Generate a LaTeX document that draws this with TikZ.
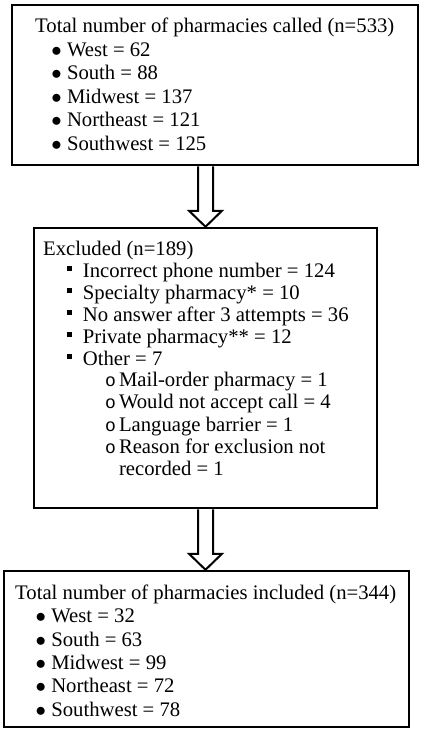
\documentclass[tikz,border=0pt]{standalone}
\usepackage{fontspec}
\setmainfont{Liberation Serif}
\newfontfamily\monofont{Liberation Mono}
\usetikzlibrary{positioning,calc}
\newcommand{\bul}{\makebox[15.6pt][l]{$\bullet$}}
\newcommand{\sqbul}{\makebox[16pt][l]{\rule[6.3pt]{5pt}{4.7pt}}}
\newcommand{\cbul}{\makebox[14pt][l]{\monofont\fontsize{18}{18}\selectfont o}}

\begin{document}
\begin{tikzpicture}[x=1pt,y=1pt,font=\fontsize{20.7}{24}\selectfont,
  box/.style={draw,line width=2.5,inner sep=0},
  txt/.style={anchor=base west,inner sep=0},
  hollow/.style={draw,line width=2,line join=miter}]
\useasboundingbox (0,0) rectangle (423,-733);
% boxes
\node[box,minimum width=406,minimum height=160](called) at (215,-85) {};
\node[box,minimum width=343,minimum height=280](excl) at (205.5,-368) {};
\node[box,minimum width=405,minimum height=156](incl) at (206.5,-649) {};
% first box
\node[txt](ctitle) at (35,-32.3) {Total number of pharmacies called (n=533)};
\node[txt](c1) at (51.2,-56.7) {\bul West = 62};
\node[txt](c2) at (51.2,-80) {\bul South = 88};
\node[txt](c3) at (51.2,-103.3) {\bul Midwest = 137};
\node[txt](c4) at (51.2,-126.7) {\bul Northeast = 121};
\node[txt](c5) at (51.2,-150) {\bul Southwest = 125};
% second box
\node[txt](etitle) at (43,-255) {Excluded (n=189)};
\node[txt](e1) at (66.7,-277.3) {\sqbul Incorrect phone number = 124};
\node[txt](e2) at (66.7,-299.3) {\sqbul Specialty pharmacy* = 10};
\node[txt](e3) at (66.7,-321.3) {\sqbul No answer after 3 attempts = 36};
\node[txt](e4) at (66.7,-343.3) {\sqbul Private pharmacy** = 12};
\node[txt](e5) at (66.7,-365.3) {\sqbul Other = 7};
\node[txt](o1) at (104.8,-386.7) {\cbul Mail-order pharmacy = 1};
\node[txt](o2) at (104.8,-408.7) {\cbul Would not accept call = 4};
\node[txt](o3) at (104.8,-431) {\cbul Language barrier = 1};
\node[txt](o4) at (104.8,-453) {\cbul Reason for exclusion not};
\node[txt](o4b) at (118.8,-475) {recorded = 1};
% third box
\node[txt](ititle) at (15,-599.3) {Total number of pharmacies included (n=344)};
\node[txt](i1) at (35.5,-622.7) {\bul West = 32};
\node[txt](i2) at (35.5,-646) {\bul South = 63};
\node[txt](i3) at (35.5,-669.3) {\bul Midwest = 99};
\node[txt](i4) at (35.5,-692.7) {\bul Northeast = 72};
\node[txt](i5) at (35.5,-716) {\bul Southwest = 78};
% arrows
\coordinate (a1) at (called.south -| excl.north);
\draw[hollow] ($(a1)+(-7.5,0)$) -- ($(excl.north)+(-7.5,16)$) -- ($(excl.north)+(-16.5,16)$)
  -- (excl.north) -- ($(excl.north)+(16.5,16)$) -- ($(excl.north)+(7.5,16)$) -- ($(a1)+(7.5,0)$);
\coordinate (a2) at (incl.north -| excl.south);
\draw[hollow] ($(excl.south)+(-7.5,0)$) -- ($(a2)+(-7.5,16)$) -- ($(a2)+(-16.5,16)$)
  -- (a2) -- ($(a2)+(16.5,16)$) -- ($(a2)+(7.5,16)$) -- ($(excl.south)+(7.5,0)$);
\end{tikzpicture}
\end{document}
